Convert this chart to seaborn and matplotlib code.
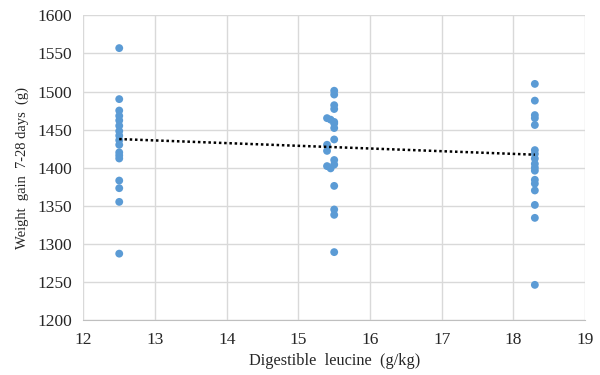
import numpy as np
import pandas as pd
import matplotlib.pyplot as plt
import seaborn as sns

# Data
leu_low = [12.5] * 17
gain_low = [1557, 1490, 1475, 1468, 1462, 1455, 1448, 1442, 1436, 1430,
            1420, 1416, 1412, 1383, 1373, 1355, 1287]

leu_mid = [15.5, 15.5, 15.5, 15.5, 15.4, 15.45, 15.5, 15.5, 15.5, 15.5,
           15.4, 15.4, 15.5, 15.4, 15.45, 15.5, 15.5, 15.5, 15.5, 15.5]
gain_mid = [1501, 1496, 1482, 1477, 1465, 1463, 1458, 1452, 1437, 1410,
            1430, 1422, 1404, 1402, 1399, 1376, 1345, 1338, 1289, 1460]

leu_high = [18.3] * 17
gain_high = [1510, 1488, 1469, 1465, 1456, 1423, 1418, 1405, 1400, 1396,
             1384, 1379, 1370, 1351, 1334, 1246, 1412]

# linear trend line as drawn in the chart
trend_x = [12.5, 18.3]
trend_y = [1437.5, 1417]

df = pd.DataFrame({
    "leucine": leu_low + leu_mid + leu_high,
    "gain": gain_low + gain_mid + gain_high,
})

sns.set_style("white")
plt.rcParams["font.family"] = ["Liberation Serif", "DejaVu Serif"]

fig = plt.figure(figsize=(6, 3.75), dpi=100)
ax = fig.add_axes([0.139, 0.147, 0.836, 0.812])

sns.scatterplot(data=df, x="leucine", y="gain", color="#5B9BD5", s=32,
                edgecolor="none", ax=ax, zorder=3)

sns.lineplot(x=trend_x, y=trend_y, ax=ax, color="black", zorder=4,
             linestyle=(0, (1, 1.1)), linewidth=1.8)

ax.set_xlim(12, 19)
ax.set_ylim(1200, 1600)
ax.set_xticks(range(12, 20))
ax.set_yticks(range(1200, 1601, 50))
ax.grid(True, color="#D9D9D9", linewidth=1)
ax.set_axisbelow(True)
for side in ["top", "right", "left"]:
    ax.spines[side].set_visible(False)
ax.spines["bottom"].set_color("#BFBFBF")
ax.tick_params(length=0, labelsize=12.5)
ax.tick_params(axis="y", pad=8)
ax.tick_params(axis="x", pad=9)

ax.set_xlabel("Digestible  leucine  (g/kg)", fontsize=11.8, labelpad=3)
ax.set_ylabel("Weight  gain  7-28 days  (g)", fontsize=10.5, labelpad=6)

fig.savefig("out.png", dpi=100)
